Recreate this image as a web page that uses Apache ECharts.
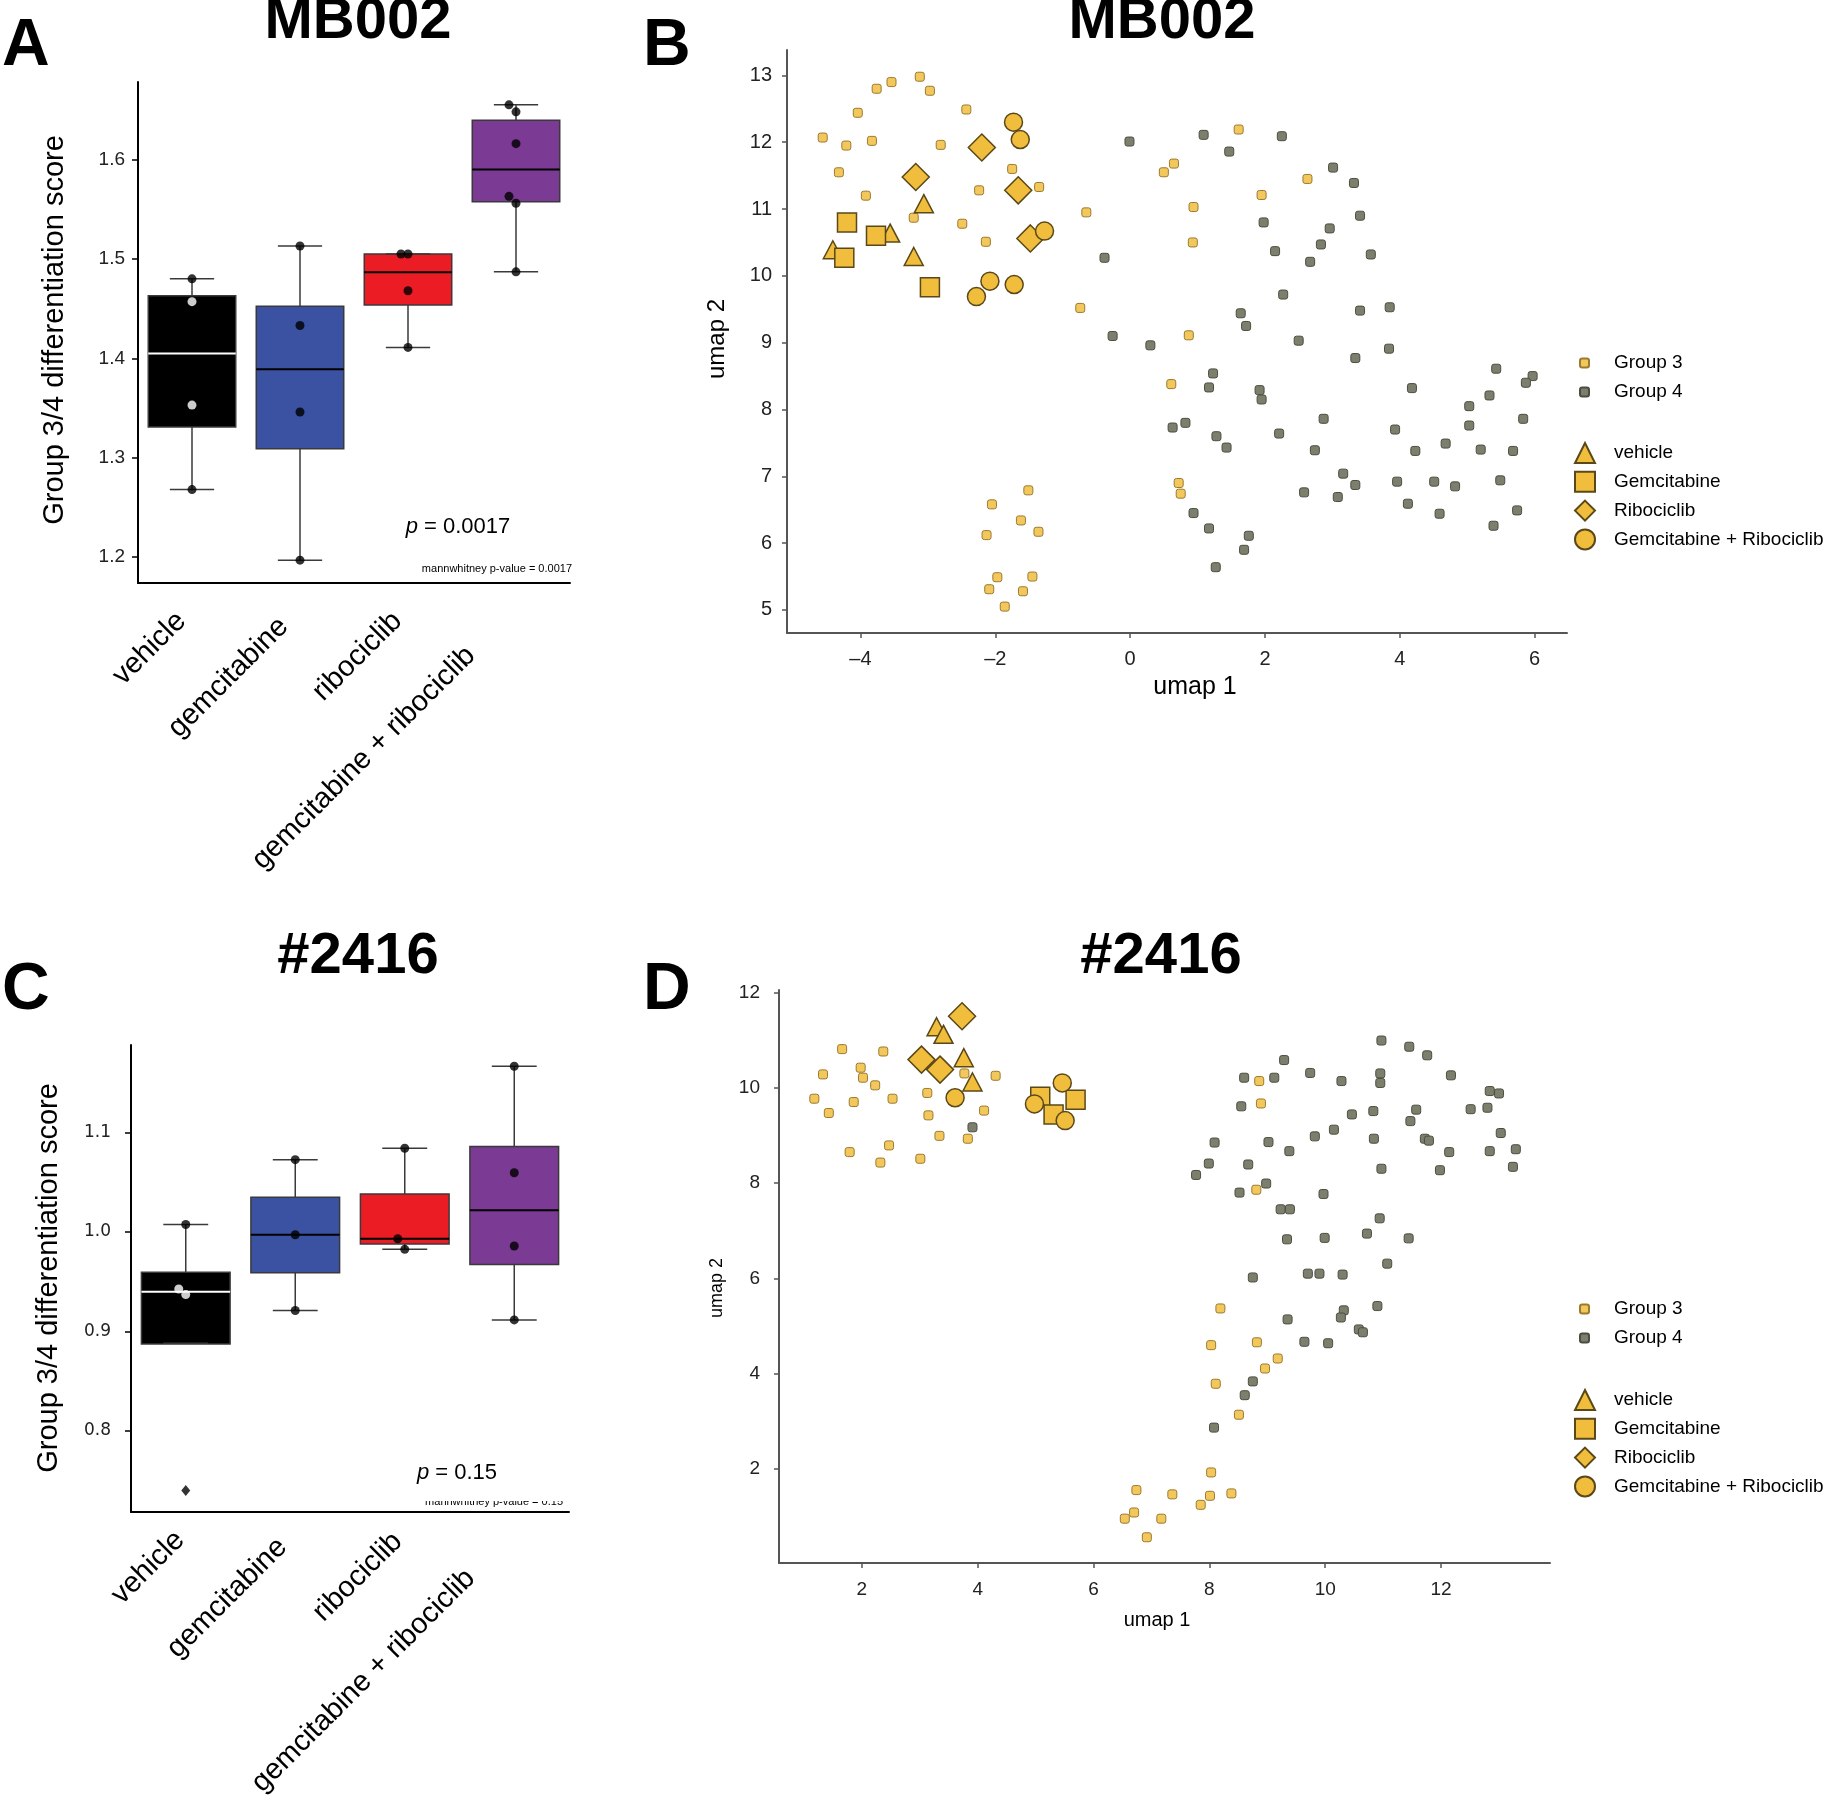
<!DOCTYPE html>
<html><head><meta charset="utf-8">
<script src="https://cdn.jsdelivr.net/npm/echarts@6/dist/echarts.min.js"></script>
<style>html,body{margin:0;padding:0;background:#fff}#c{width:1831px;height:1808px}</style>
</head><body><div id="c"></div>
<script>
// ---------------- DATA ----------------
const categories = ['vehicle', 'gemcitabine', 'ribociclib', 'gemcitabine + ribociclib'];
// box plots: [lowWhisker, q1, median, q3, highWhisker]
const A_boxes = [
  [1.268, 1.331, 1.405, 1.463, 1.480],
  [1.197, 1.309, 1.389, 1.4525, 1.513],
  [1.411, 1.4537, 1.4865, 1.505, 1.505],
  [1.487, 1.5576, 1.590, 1.6396, 1.655]
];
const A_points = [
  [1.480, 1.457, 1.353, 1.268],
  [1.513, 1.433, 1.346, 1.197],
  [1.505, 1.505, 1.468, 1.411],
  [1.655, 1.648, 1.616, 1.563, 1.556, 1.487]
];
const A_yTicks = [1.2, 1.3, 1.4, 1.5, 1.6];
const C_boxes = [
  [0.888, 0.8873, 0.9398, 0.9594, 1.0074],
  [0.9209, 0.9590, 0.9971, 1.0348, 1.0725],
  [0.9824, 0.9877, 0.9930, 1.0381, 1.084],
  [0.9115, 0.9672, 1.0217, 1.0857, 1.1664]
];
const C_points = [
  [1.0074, 0.9426, 0.9369, 0.740],
  [1.0725, 0.9971, 0.9209],
  [1.084, 0.993, 0.9824],
  [1.1664, 1.0594, 0.9857, 0.9115]
];
const C_yTicks = [0.8, 0.9, 1.0, 1.1];

const B_xTicks = [-4, -2, 0, 2, 4, 6];
const B_yTicks = [5, 6, 7, 8, 9, 10, 11, 12, 13];
const B_group3 = [[-4.56,12.07],[-4.21,11.95],[-4.04,12.44],[-3.76,12.80],[-3.54,12.90],[-3.12,12.98],[-2.97,12.77],[-3.83,12.02],[-4.32,11.55],[-3.92,11.20],[-2.81,11.96],[-2.43,12.49],[-1.75,11.60],[-2.24,11.28],[-1.35,11.33],[-3.21,10.87],[-2.49,10.78],[-2.14,10.51],[-0.65,10.95],[-0.74,9.52],[0.50,11.55],[0.65,11.68],[0.94,11.03],[0.93,10.50],[0.87,9.11],[1.61,12.19],[2.63,11.45],[1.95,11.21],[0.61,8.38],[0.72,6.90],[0.75,6.74],[-1.51,6.79],[-2.05,6.58],[-1.62,6.34],[-2.13,6.12],[-1.36,6.17],[-1.97,5.49],[-1.45,5.50],[-2.09,5.31],[-1.59,5.28],[-1.86,5.05]];
const B_group4 = [[-0.01,12.01],[1.09,12.11],[1.47,11.86],[2.25,12.09],[3.01,11.62],[3.32,11.39],[3.41,10.90],[1.98,10.80],[2.96,10.71],[2.83,10.47],[2.15,10.37],[2.67,10.21],[3.57,10.32],[-0.38,10.27],[2.27,9.72],[1.64,9.44],[1.72,9.25],[3.41,9.48],[3.85,9.53],[-0.26,9.10],[0.30,8.96],[2.50,9.03],[3.84,8.91],[3.34,8.77],[1.23,8.54],[1.17,8.33],[1.92,8.29],[1.95,8.15],[4.18,8.32],[5.43,8.61],[5.97,8.50],[5.87,8.40],[5.33,8.21],[5.03,8.05],[5.83,7.86],[5.03,7.76],[3.93,7.70],[4.68,7.49],[4.23,7.38],[5.20,7.40],[5.68,7.38],[2.87,7.86],[0.63,7.73],[0.82,7.80],[1.28,7.60],[1.43,7.43],[2.21,7.64],[2.74,7.39],[3.16,7.04],[3.34,6.87],[2.58,6.76],[3.08,6.69],[0.94,6.45],[1.17,6.22],[1.76,6.11],[1.69,5.90],[1.27,5.64],[3.96,6.92],[4.51,6.92],[4.82,6.85],[5.49,6.94],[4.12,6.59],[4.59,6.44],[5.74,6.49],[5.39,6.26]];
const B_vehicle = [[-3.06,11.08],[-3.56,10.64],[-4.41,10.39],[-3.21,10.29]];
const B_gem = [[-4.20,10.80],[-3.77,10.60],[-4.24,10.27],[-2.97,9.83]];
const B_ribo = [[-3.18,11.48],[-2.20,11.92],[-1.66,11.28],[-1.48,10.56]];
const B_combo = [[-1.73,12.30],[-1.63,12.04],[-1.27,10.67],[-2.08,9.92],[-2.28,9.69],[-1.72,9.87]];

const D_xTicks = [2, 4, 6, 8, 10, 12];
const D_yTicks = [2, 4, 6, 8, 10, 12];
const D_group3 = [[1.18,9.77],[1.33,10.28],[1.43,9.47],[1.66,10.81],[1.79,8.65],[1.86,9.70],[1.98,10.42],[2.02,10.21],[2.23,10.05],[2.37,10.76],[2.47,8.79],[2.32,8.43],[2.53,9.77],[3.01,8.51],[3.13,9.89],[3.15,9.42],[3.34,8.99],[3.77,10.30],[3.83,8.93],[4.11,9.52],[4.31,10.25],[8.86,10.14],[8.89,9.67],[8.81,7.86],[8.19,5.37],[8.03,4.60],[8.82,4.66],[9.18,4.32],[8.96,4.11],[8.11,3.79],[8.51,3.14],[8.03,1.93],[6.74,1.56],[7.36,1.47],[8.01,1.44],[8.38,1.49],[7.85,1.25],[6.70,1.09],[6.54,0.96],[7.17,0.96],[6.92,0.57]];
const D_group4 = [[3.91,9.17],[10.97,10.99],[11.45,10.86],[11.76,10.68],[9.29,10.58],[8.60,10.21],[9.12,10.21],[9.74,10.31],[10.28,10.14],[10.95,10.30],[10.95,10.10],[12.17,10.26],[12.84,9.93],[13.00,9.88],[8.55,9.61],[10.46,9.44],[10.83,9.51],[11.57,9.54],[11.47,9.30],[12.51,9.55],[12.80,9.58],[8.09,8.85],[9.02,8.86],[9.82,8.98],[10.15,9.12],[9.38,8.67],[10.84,8.93],[11.72,8.93],[11.79,8.89],[12.14,8.65],[13.03,9.05],[12.84,8.67],[13.29,8.71],[13.24,8.34],[7.99,8.41],[8.67,8.39],[7.77,8.17],[10.97,8.30],[11.98,8.27],[8.98,7.99],[8.52,7.80],[9.97,7.77],[9.23,7.45],[9.39,7.45],[10.94,7.26],[10.72,6.94],[9.34,6.82],[9.99,6.85],[11.44,6.84],[11.07,6.31],[8.75,6.02],[9.70,6.10],[9.90,6.10],[10.30,6.08],[10.90,5.42],[10.32,5.33],[10.27,5.18],[9.35,5.14],[10.58,4.93],[10.65,4.87],[9.64,4.67],[10.05,4.64],[8.75,3.84],[8.61,3.55],[8.08,2.87]];
const D_vehicle = [[3.29,11.28],[3.41,11.12],[3.76,10.63],[3.91,10.12]];
const D_gem = [[5.08,9.81],[5.69,9.75],[5.31,9.44]];
const D_ribo = [[3.73,11.50],[3.03,10.59],[3.35,10.38]];
const D_combo = [[3.61,9.79],[5.46,10.10],[4.98,9.66],[5.51,9.31]];

// ---------------- STYLE ----------------
const FONT = '"Liberation Sans", Arial, Helvetica, sans-serif';
const NARROW = '"Liberation Sans Narrow", "Liberation Sans", Arial, sans-serif';
const boxFill = ['#000000', '#3b52a3', '#ec1c24', '#7b3a93'];
const boxMed = ['#ffffff', '#000000', '#000000', '#000000'];
const G3 = { color: '#f2c75c', borderColor: '#9c7a30', borderWidth: 1 };
const G4 = { color: '#7b7f6c', borderColor: '#4a4e42', borderWidth: 1 };
const BIG = { color: '#f0bd3c', borderColor: '#5a4818', borderWidth: 1.5 };

const chart = echarts.init(document.getElementById('c'));

function boxX(gi, pads, margin) {
  const rich = {};
  pads.forEach((p, i) => { rich['p' + i] = { padding: [0, p, 0, 0], fontSize: 29, fontFamily: FONT, color: '#000' }; });
  return { type: 'category', gridIndex: gi, data: categories, boundaryGap: true,
    axisLine: { onZero: false, lineStyle: { color: '#000', width: 2 } },
    axisTick: { alignWithLabel: true, length: 6, lineStyle: { color: '#000', width: 1.5 } },
    axisLabel: { rotate: 45, interval: 0, fontSize: 29, fontFamily: FONT, color: '#000', margin,
      formatter: (v, i) => '{p' + i + '|' + v + '}', rich },
    splitLine: { show: false } };
}
function boxY(gi, min, max, ticks, fam, fs, margin) {
  return { type: 'value', gridIndex: gi, min, max,
    axisLine: { show: true, onZero: false, lineStyle: { color: '#000', width: 2 } },
    axisTick: { show: true, length: 6, customValues: ticks, lineStyle: { color: '#000', width: 1.5 } },
    axisLabel: { customValues: ticks, formatter: v => (+v).toFixed(1), fontSize: fs, fontFamily: fam, color: '#222', margin },
    splitLine: { show: false } };
}
function fmtNum(v) { v = +v; return v < 0 ? '\u2013' + (-v) : String(v); }
function umapAxis(gi, min, max, ticks, fs, margin) {
  return { type: 'value', gridIndex: gi, min, max,
    axisLine: { show: true, onZero: false, lineStyle: { color: '#555', width: 2 } },
    axisTick: { show: true, length: 5, customValues: ticks, lineStyle: { color: '#555', width: 1.5 } },
    axisLabel: { customValues: ticks, formatter: fmtNum, fontSize: fs, fontFamily: FONT, color: '#222', margin },
    splitLine: { show: false } };
}
function boxSeries(ai, boxes) {
  return { type: 'custom', xAxisIndex: ai, yAxisIndex: ai, z: 2,
    data: boxes.map((b, i) => [i].concat(b)),
    encode: { x: 0, y: [1, 2, 3, 4, 5] },
    renderItem: (params, api) => {
      const i = api.value(0), k = params.dataIndex;
      const P = d => api.coord([i, api.value(d)]);
      const lo = P(1), q1 = P(2), md = P(3), q3 = P(4), hi = P(5);
      const band = api.size([1, 0])[0];
      const bw = band * 0.81, cw = band * 0.41, cx = lo[0];
      const ln = (x1, y1, x2, y2, c, w) => ({ type: 'line', shape: { x1, y1, x2, y2 }, style: { stroke: c, lineWidth: w } });
      return { type: 'group', children: [
        ln(cx, hi[1], cx, lo[1], '#3a3a3a', 1.5),
        { type: 'rect', shape: { x: cx - bw / 2, y: q3[1], width: bw, height: Math.max(q1[1] - q3[1], 0.5) },
          style: { fill: boxFill[k], stroke: '#3a3a3a', lineWidth: 1.5 } },
        ln(cx - bw / 2, md[1], cx + bw / 2, md[1], boxMed[k], 2),
        ln(cx - cw / 2, hi[1], cx + cw / 2, hi[1], '#3a3a3a', 1.5),
        ln(cx - cw / 2, lo[1], cx + cw / 2, lo[1], '#3a3a3a', 1.5)
      ] };
    } };
}
function pointSeries(ai, pts, boxes) {
  const data = [];
  pts.forEach((grp, ci) => {
    const b = boxes[ci];
    grp.forEach((v, j) => {
      const closeLater = grp.some((w, m) => m > j && Math.abs(w - v) < 0.012);
      const inside = ci === 0 && v > b[1] && v < b[3];
      const outlier = v < b[0] - 0.005 || v > b[4] + 0.005;
      data.push({ value: [ci, v], symbol: outlier ? 'diamond' : 'circle',
        symbolSize: outlier ? [9, 11] : 9,
        symbolOffset: [closeLater ? -7 : 0, 0],
        itemStyle: { color: inside ? '#ffffff' : '#000000' } });
    });
  });
  return { type: 'scatter', xAxisIndex: ai, yAxisIndex: ai, z: 3, data, emphasis: { disabled: true } };
}
function sc(name, ai, data, symbol, size, style, z) {
  return { type: 'scatter', name, xAxisIndex: ai, yAxisIndex: ai, data, symbol, symbolSize: size,
    itemStyle: Object.assign({ opacity: 1 }, style), z, emphasis: { disabled: true } };
}
function umapSeries(ai, g3, g4, veh, gem, ribo, combo) {
  return [
    sc('Group 4', ai, g4, 'roundRect', 9, G4, 2),
    sc('Group 3', ai, g3, 'roundRect', 9, G3, 2),
    sc('vehicle', ai, veh, 'triangle', [19, 18], BIG, 4),
    sc('Gemcitabine', ai, gem, 'rect', 19, BIG, 4),
    sc('Ribociclib', ai, ribo, 'diamond', 27, BIG, 4),
    sc('Gemcitabine + Ribociclib', ai, combo, 'circle', 18, BIG, 4)
  ];
}
function legends(top1, top2) {
  const ts = pad => ({ fontSize: 19, fontFamily: FONT, color: '#000', lineHeight: 20, padding: [0, 0, 0, pad] });
  return [
    { orient: 'vertical', left: 1574, top: top1, itemWidth: 9, itemHeight: 9, itemGap: 9, selectedMode: false,
      data: [{ name: 'Group 3', icon: 'roundRect' }, { name: 'Group 4', icon: 'roundRect' }], textStyle: ts(20) },
    { orient: 'vertical', left: 1569, top: top2, itemWidth: 20, itemHeight: 20, itemGap: 6.8, selectedMode: false,
      data: [{ name: 'vehicle', icon: 'triangle' }, { name: 'Gemcitabine', icon: 'rect' },
             { name: 'Ribociclib', icon: 'diamond' }, { name: 'Gemcitabine + Ribociclib', icon: 'circle' }],
      textStyle: ts(14) }
  ];
}
function T(text, x, y, st, rot) {
  return { type: 'text', x, y, rotation: rot || 0, z: 20,
    style: Object.assign({ text, fill: '#000', fontFamily: FONT, fontSize: 20,
      textAlign: 'center', textVerticalAlign: 'middle', align: 'center', verticalAlign: 'middle' }, st) };
}
const bold = (fs) => ({ fontWeight: 'bold', fontSize: fs });
const left = { textAlign: 'left', align: 'left' };

const option = {
  animation: false,
  backgroundColor: '#ffffff',
  grid: [
    { left: 138, top: 82, width: 432, height: 501 },
    { left: 787, top: 50, width: 780, height: 583 },
    { left: 131, top: 1045, width: 438, height: 467 },
    { left: 779, top: 990, width: 771, height: 573 }
  ],
  xAxis: [
    boxX(0, [15, 23, 15, 64], 23),
    umapAxis(1, -5.09, 6.48, B_xTicks, 20, 16),
    boxX(2, [8, 18, 10, 62], 18),
    umapAxis(3, 0.57, 13.88, D_xTicks, 19, 17)
  ],
  yAxis: [
    boxY(0, 1.174, 1.678, A_yTicks, FONT, 19, 13),
    umapAxis(1, 4.655, 13.38, B_yTicks, 20, 15),
    boxY(2, 0.7185, 1.1877, C_yTicks, '"DejaVu Sans", sans-serif', 17, 20),
    umapAxis(3, 0.03, 12.05, D_yTicks, 19, 19)
  ],
  legend: legends(348, 437).concat(legends(1294, 1384)),
  series: [
    boxSeries(0, A_boxes), pointSeries(0, A_points, A_boxes),
    boxSeries(2, C_boxes), pointSeries(2, C_points, C_boxes)
  ].concat(umapSeries(1, B_group3, B_group4, B_vehicle, B_gem, B_ribo, B_combo))
   .concat(umapSeries(3, D_group3, D_group4, D_vehicle, D_gem, D_ribo, D_combo)),
  graphic: { elements: [
    T('A', 2, 47, Object.assign(bold(66), left)),
    T('B', 643, 47, Object.assign(bold(66), left)),
    T('C', 2, 991, Object.assign(bold(66), left)),
    T('D', 643, 991, Object.assign(bold(66), left)),
    T('MB002', 358, 22, bold(58)),
    T('MB002', 1162, 22, bold(58)),
    T('#2416', 358, 957, bold(58)),
    T('#2416', 1161, 957, bold(58)),
    T('Group 3/4 differentiation score', 55, 330, { fontSize: 29 }, Math.PI / 2),
    T('Group 3/4 differentiation score', 49, 1278, { fontSize: 29 }, Math.PI / 2),
    T('{i|p} = 0.0017', 458, 527, { fontSize: 22, rich: { i: { fontStyle: 'italic', fontSize: 22, fontFamily: FONT } } }),
    T('mannwhitney p-value = 0.0017', 572, 569, { fontSize: 11, fontFamily: NARROW, textAlign: 'right', align: 'right' }),
    T('{i|p} = 0.15', 457, 1473, { fontSize: 22, rich: { i: { fontStyle: 'italic', fontSize: 22, fontFamily: FONT } } }),
    T('mannwhitney p-value = 0.15', 563, 1502, { fontSize: 11, fontFamily: NARROW, textAlign: 'right', align: 'right' }),
    { type: 'rect', z: 21, shape: { x: 395, y: 1492, width: 172, height: 9 }, style: { fill: '#ffffff' } },
    T('umap 2', 717, 339, { fontSize: 24, fontFamily: NARROW }, Math.PI / 2),
    T('umap 1', 1195, 687, { fontSize: 25, fontFamily: NARROW }),
    T('umap 2', 717, 1288, { fontSize: 18, fontFamily: NARROW }, Math.PI / 2),
    T('umap 1', 1157, 1620, { fontSize: 20, fontFamily: NARROW })
  ] }
};
chart.setOption(option);
</script></body></html>
